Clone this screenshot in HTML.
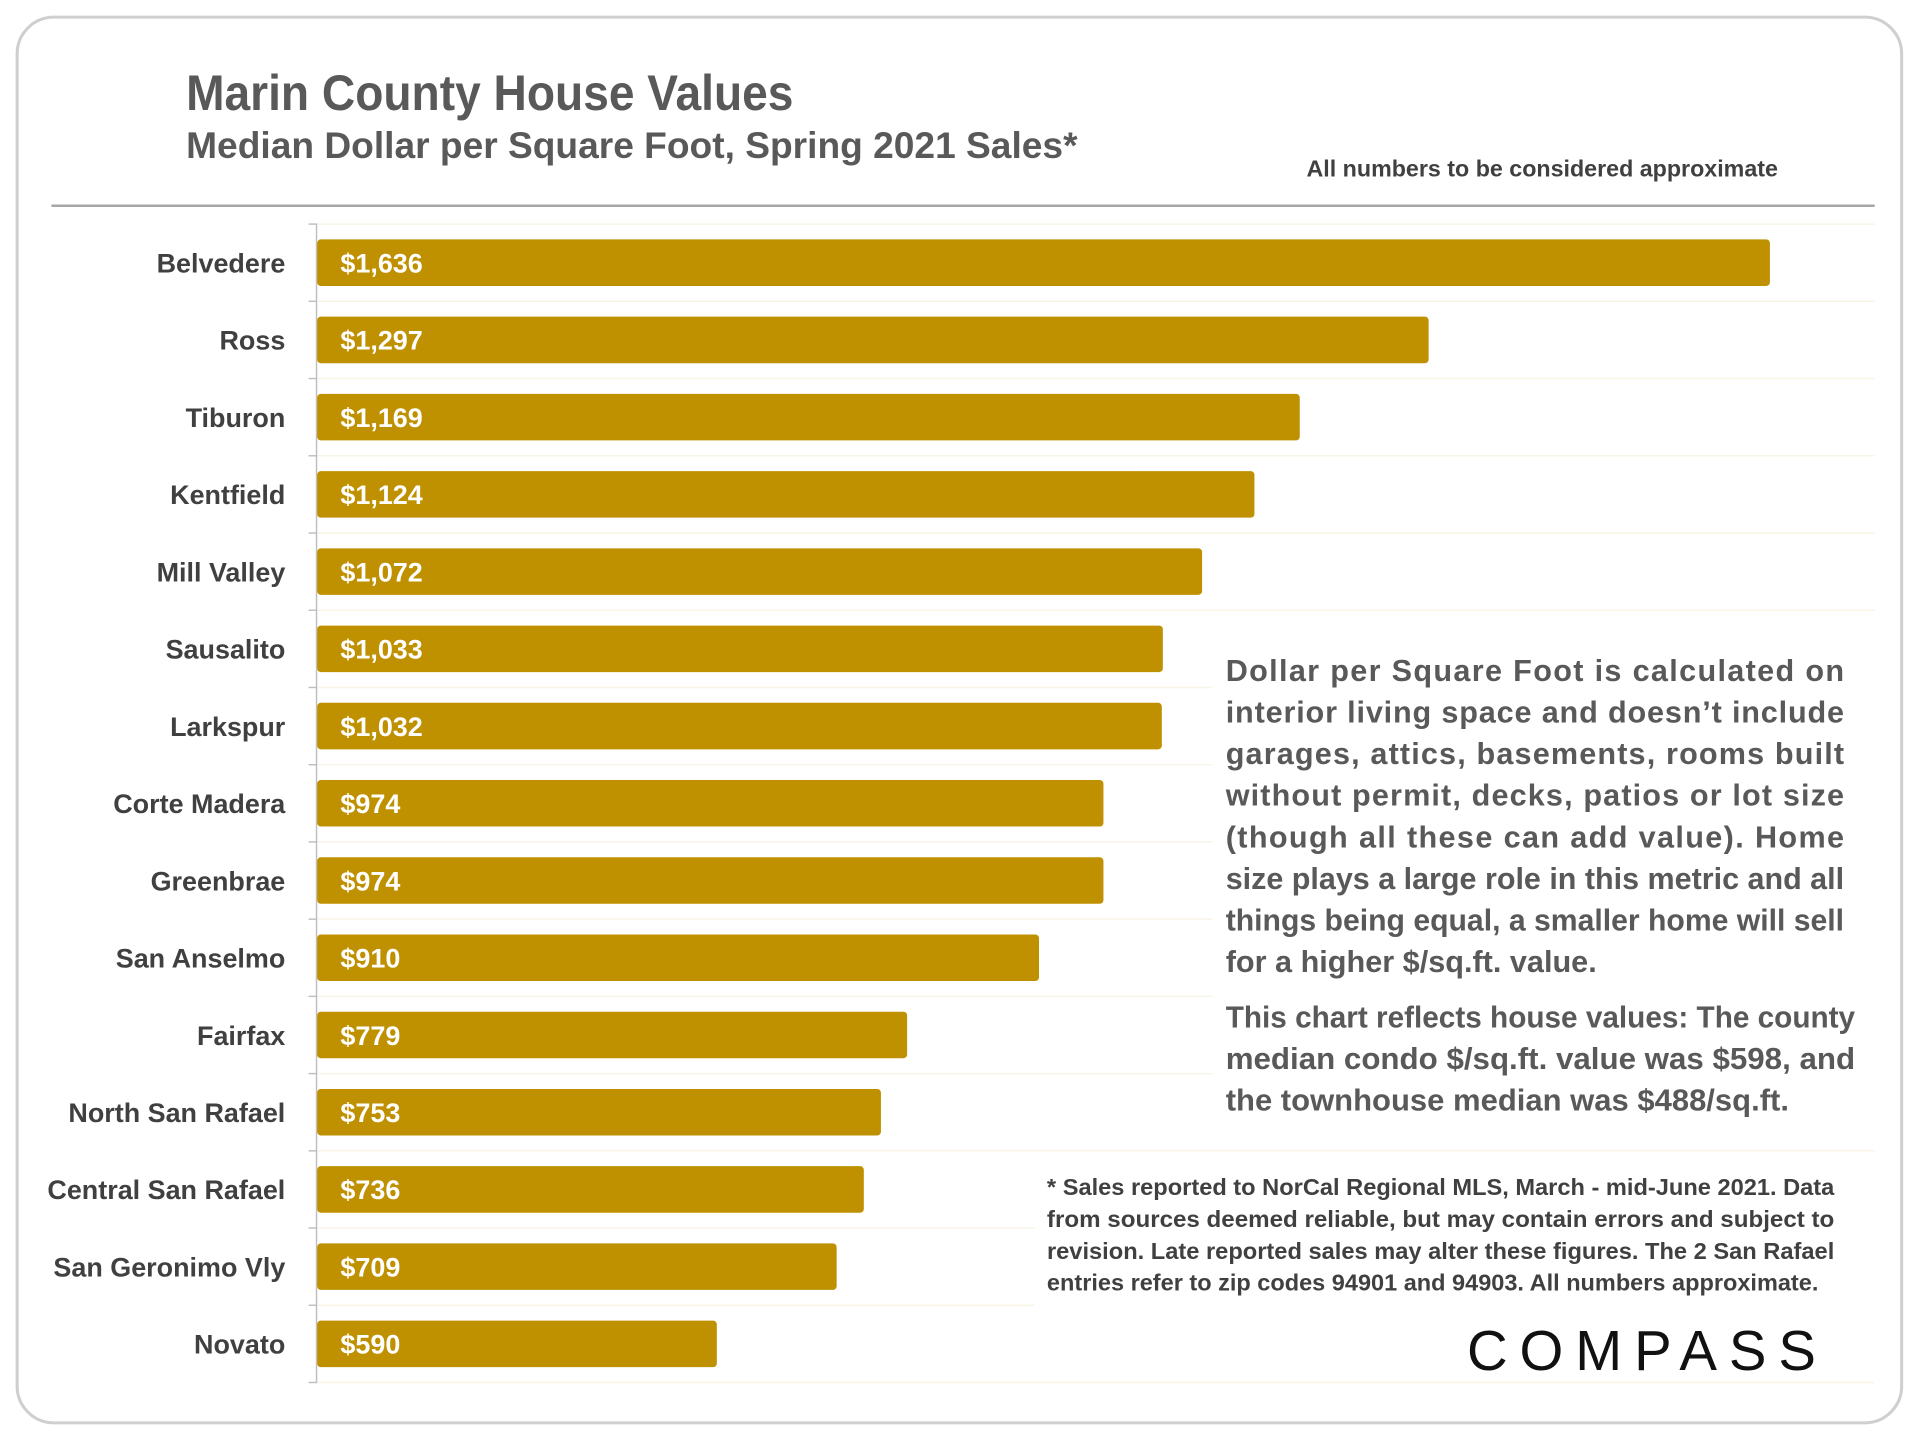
<!DOCTYPE html>
<html><head><meta charset="utf-8"><style>
html,body{margin:0;padding:0;background:#fff;}
svg{display:block;font-family:"Liberation Sans",sans-serif;}
</style></head><body>
<svg id="chart" width="1920" height="1440" viewBox="0 0 1568 1176" xmlns="http://www.w3.org/2000/svg">
<rect x="14" y="14" width="1539" height="1148" rx="30" fill="#fff" stroke="#cfcfcf" stroke-width="2.5"/>
<text x="152" y="90" font-size="41" font-weight="bold" fill="#595959" textLength="496" lengthAdjust="spacingAndGlyphs">Marin County House Values</text>
<text x="152" y="129" font-size="30" font-weight="bold" fill="#595959" textLength="728" lengthAdjust="spacingAndGlyphs">Median Dollar per Square Foot, Spring 2021 Sales*</text>
<text x="1067" y="144" font-size="19" font-weight="bold" fill="#404040" textLength="385" lengthAdjust="spacingAndGlyphs">All numbers to be considered approximate</text>
<line x1="42" y1="168" x2="1531" y2="168" stroke="#a6a6a6" stroke-width="2"/>
<g id="grid"></g>
<rect x="990" y="520" width="541" height="400" fill="#fff"/>
<rect x="845" y="950" width="686" height="178" fill="#fff"/>
<g id="bars"></g>
<g font-size="25" font-weight="bold" fill="#595959">
<text x="1001" y="556" textLength="505" lengthAdjust="spacing">Dollar per Square Foot is calculated on</text>
<text x="1001" y="590" textLength="505" lengthAdjust="spacing">interior living space and doesn’t include</text>
<text x="1001" y="624" textLength="505" lengthAdjust="spacing">garages, attics, basements, rooms built</text>
<text x="1001" y="658" textLength="505" lengthAdjust="spacing">without permit, decks, patios or lot size</text>
<text x="1001" y="692" textLength="505" lengthAdjust="spacing">(though all these can add value). Home</text>
<text x="1001" y="726" textLength="505" lengthAdjust="spacingAndGlyphs">size plays a large role in this metric and all</text>
<text x="1001" y="760" textLength="505" lengthAdjust="spacingAndGlyphs">things being equal, a smaller home will sell</text>
<text x="1001" y="794" textLength="303" lengthAdjust="spacingAndGlyphs">for a higher $/sq.ft. value.</text>
<text x="1001" y="839" textLength="514" lengthAdjust="spacingAndGlyphs">This chart reflects house values: The county</text>
<text x="1001" y="873" textLength="514" lengthAdjust="spacingAndGlyphs">median condo $/sq.ft. value was $598, and</text>
<text x="1001" y="907" textLength="460" lengthAdjust="spacingAndGlyphs">the townhouse median was $488/sq.ft.</text>
</g>
<g font-size="19" font-weight="bold" fill="#404040">
<text x="855" y="976" textLength="643" lengthAdjust="spacingAndGlyphs">* Sales reported to NorCal Regional MLS, March - mid-June 2021. Data</text>
<text x="855" y="1002" textLength="643" lengthAdjust="spacingAndGlyphs">from sources deemed reliable, but may contain errors and subject to</text>
<text x="855" y="1028" textLength="643" lengthAdjust="spacingAndGlyphs">revision. Late reported sales may alter these figures. The 2 San Rafael</text>
<text x="855" y="1054" textLength="630" lengthAdjust="spacingAndGlyphs">entries refer to zip codes 94901 and 94903. All numbers approximate.</text>
</g>
<text x="1198" y="1119" font-size="46" fill="#111" textLength="285" lengthAdjust="spacing">COMPASS</text>
</svg>
<script>
const categories = ["Belvedere","Ross","Tiburon","Kentfield","Mill Valley","Sausalito","Larkspur","Corte Madera","Greenbrae","San Anselmo","Fairfax","North San Rafael","Central San Rafael","San Geronimo Vly","Novato"];
const values = [1636,1297,1169,1124,1072,1033,1032,974,974,910,779,753,736,709,590];
const valueLabels = ["$1,636","$1,297","$1,169","$1,124","$1,072","$1,033","$1,032","$974","$974","$910","$779","$753","$736","$709","$590"];

const NS = "http://www.w3.org/2000/svg";
const plotLeft = 259, plotTop = 183, band = 63.07;
const xMin = 193, xPerUnit = 0.8222;
function xScale(v){ return plotLeft + (v - xMin) * xPerUnit; }
function yBand(i){ return plotTop + i * band; }

const grid = document.getElementById('grid');
const bars = document.getElementById('bars');
for (let i = 0; i <= categories.length; i++) {
  const y = yBand(i);
  const g = document.createElementNS(NS,'line');
  
  
  g.setAttribute('x1', plotLeft); g.setAttribute('x2', 1531);
  g.setAttribute('y1', y); g.setAttribute('y2', y);
  g.setAttribute('stroke', '#f8f4e6'); g.setAttribute('stroke-width', '1.2');
  grid.appendChild(g);
  const t = document.createElementNS(NS,'line');
  
  
  t.setAttribute('x1', plotLeft-7); t.setAttribute('x2', plotLeft);
  t.setAttribute('y1', y); t.setAttribute('y2', y);
  t.setAttribute('stroke', '#bfbfbf'); t.setAttribute('stroke-width', '1.2');
  grid.appendChild(t);
}
const axis = document.createElementNS(NS,'line');


axis.setAttribute('x1', plotLeft-0.5); axis.setAttribute('x2', plotLeft-0.5);
axis.setAttribute('y1', plotTop); axis.setAttribute('y2', yBand(categories.length));
axis.setAttribute('stroke', '#bfbfbf'); axis.setAttribute('stroke-width', '1.2');
grid.appendChild(axis);

categories.forEach((c, i) => {
  const cy = yBand(i) + band/2;
  const r = document.createElementNS(NS,'rect');
  
  
  r.setAttribute('x', plotLeft); r.setAttribute('y', cy - 19);
  r.setAttribute('width', xScale(values[i]) - plotLeft); r.setAttribute('height', 38);
  r.setAttribute('rx', 3); r.setAttribute('fill', '#bf9000');
  bars.appendChild(r);
  const v = document.createElementNS(NS,'text');
  
  
  v.setAttribute('x', 278); v.setAttribute('y', cy + 8);
  v.setAttribute('font-size', '22'); v.setAttribute('font-weight', 'bold'); v.setAttribute('fill', '#fff');
  v.textContent = valueLabels[i];
  bars.appendChild(v);
  const l = document.createElementNS(NS,'text');
  
  
  l.setAttribute('x', 233); l.setAttribute('y', cy + 8);
  l.setAttribute('text-anchor', 'end');
  l.setAttribute('font-size', '22'); l.setAttribute('font-weight', 'bold'); l.setAttribute('fill', '#404040');
  l.textContent = c;
  bars.appendChild(l);
});
</script>
</body></html>
